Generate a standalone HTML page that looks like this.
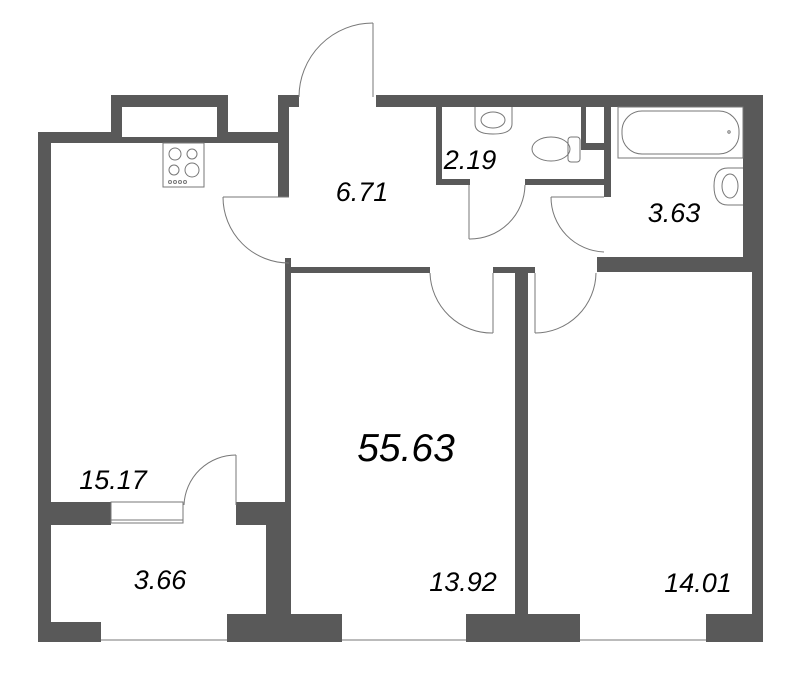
<!DOCTYPE html>
<html><head><meta charset="utf-8"><style>
html,body{margin:0;padding:0;background:#fff;}
svg{display:block}
text{font-family:"Liberation Sans",sans-serif;font-style:italic;fill:#000}
</style></head><body>
<svg width="800" height="680" viewBox="0 0 800 680" xmlns="http://www.w3.org/2000/svg">
<g fill="#595959">
<rect x="38" y="132" width="13" height="510"/>
<rect x="38" y="132" width="251" height="11"/>
<rect x="111" y="95" width="117" height="48"/>
<rect x="278" y="95" width="11" height="102"/>
<rect x="278" y="95" width="21" height="12"/>
<rect x="285" y="258" width="6" height="244"/>
<rect x="285" y="258" width="6" height="15"/>
<rect x="376" y="95" width="387" height="12"/>
<rect x="743" y="95" width="20" height="177"/>
<rect x="752" y="258" width="11" height="384"/>
<rect x="436" y="107" width="6" height="78"/>
<rect x="436" y="179" width="34" height="6"/>
<rect x="525" y="179" width="86" height="6"/>
<rect x="581" y="107" width="5" height="43"/>
<rect x="581" y="143" width="25" height="7"/>
<rect x="604" y="107" width="7" height="90"/>
<rect x="597" y="257" width="166" height="15"/>
<rect x="289" y="267" width="141" height="6"/>
<rect x="493" y="267" width="42" height="6"/>
<rect x="515" y="267" width="13" height="375"/>
<rect x="38" y="502" width="73" height="23"/>
<rect x="236" y="502" width="55" height="23"/>
<rect x="266" y="502" width="25" height="140"/>
<rect x="38" y="622" width="63" height="20"/>
<rect x="227" y="614" width="115" height="28"/>
<rect x="466" y="614" width="114" height="28"/>
<rect x="706" y="614" width="57" height="28"/>
</g>
<g fill="#fff">
<rect x="122" y="107" width="95" height="30"/>
<rect x="586" y="107" width="14" height="36"/>
</g>
<g fill="none" stroke="#777" stroke-width="1">
<rect x="111" y="502" width="72" height="21"/>
<line x1="111" y1="520" x2="183" y2="520"/>
<line x1="101" y1="640" x2="227" y2="640"/>
<line x1="342" y1="640" x2="466" y2="640"/>
<line x1="580" y1="640" x2="706" y2="640"/>
<line x1="373" y1="23" x2="373" y2="97"/>
<path d="M373 23 A74 74 0 0 0 299 97"/>
<line x1="289" y1="197" x2="223" y2="197"/>
<path d="M223 197 A66 66 0 0 0 289 263"/>
<line x1="469" y1="185" x2="469" y2="239"/>
<path d="M469 239 A55 55 0 0 0 525 185"/>
<line x1="604" y1="197" x2="551" y2="197"/>
<path d="M551 197 A55 55 0 0 0 604 252"/>
<line x1="493" y1="273" x2="493" y2="333"/>
<path d="M430 273 A62 62 0 0 0 493 333"/>
<line x1="535" y1="273" x2="535" y2="333"/>
<path d="M535 333 A61 61 0 0 0 596 273"/>
<line x1="236" y1="455" x2="236" y2="505"/>
<path d="M236 455 A52 52 0 0 0 184 505"/>
<rect x="163" y="143" width="41" height="44"/>
<circle cx="175" cy="154" r="6"/><circle cx="192" cy="154" r="5"/>
<circle cx="174" cy="170" r="5"/><circle cx="192" cy="170" r="7"/>
<circle cx="170" cy="182" r="1.5"/><circle cx="175" cy="182" r="1.5"/><circle cx="180" cy="182" r="1.5"/><circle cx="185" cy="182" r="1.5"/>
<rect x="618" y="107" width="125" height="51"/>
<rect x="622" y="111" width="117" height="43" rx="20"/>
<circle cx="729" cy="132" r="1.2"/>
<path d="M475 107 L475 124 Q475 134 493 134 Q512 134 512 124 L512 107"/>
<ellipse cx="493" cy="120" rx="12" ry="8"/>
<path d="M743 168 L728 168 Q714 168 714 186 Q714 205 728 205 L743 205"/>
<ellipse cx="730" cy="186" rx="8" ry="12"/>
<ellipse cx="551" cy="149" rx="19" ry="12"/>
<rect x="568" y="137" width="12" height="25" rx="3"/>
</g>
<text x="362" y="201" font-size="27" text-anchor="middle">6.71</text>
<text x="470" y="169" font-size="27" text-anchor="middle">2.19</text>
<text x="674" y="222" font-size="27" text-anchor="middle">3.63</text>
<text x="406" y="461" font-size="39" text-anchor="middle">55.63</text>
<text x="113" y="489" font-size="27" text-anchor="middle">15.17</text>
<text x="160" y="589" font-size="27" text-anchor="middle">3.66</text>
<text x="463" y="591" font-size="27" text-anchor="middle">13.92</text>
<text x="698" y="592" font-size="27" text-anchor="middle">14.01</text>
</svg>
</body></html>
